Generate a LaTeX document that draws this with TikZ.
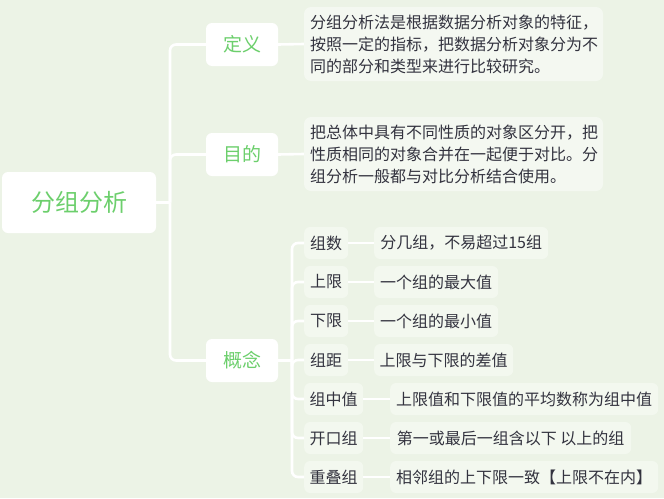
\documentclass[tikz,border=0pt]{standalone}
\usepackage{fontspec}
\setmainfont{Noto Sans CJK SC}
\begin{document}
\definecolor{bgc}{HTML}{ECF3E6}
\definecolor{cardc}{HTML}{F4F8F1}
\definecolor{leafc}{HTML}{F3F8EF}
\definecolor{greenc}{HTML}{6CCF6C}
\definecolor{inkc}{HTML}{33333F}
\begin{tikzpicture}[x=1pt,y=-1pt,
  rootbox/.style={fill=white,rounded corners=6pt,minimum width=154pt,minimum height=61pt,
    inner sep=0pt,text=greenc,font=\fontsize{24}{28}\selectfont},
  branchbox/.style={fill=white,rounded corners=6pt,minimum width=72pt,minimum height=43pt,
    inner sep=0pt,text=greenc,font=\fontsize{19}{22}\selectfont},
  notebox/.style={fill=cardc,rounded corners=7pt,minimum width=299pt,minimum height=74pt,
    inner xsep=6pt,inner ysep=0pt,text width=287pt,align=left,text=inkc,
    font=\fontsize{16}{22}\selectfont},
  termbox/.style={fill=leafc,rounded corners=6pt,minimum height=32pt,inner sep=0pt,
    text=inkc,font=\fontsize{16}{19}\selectfont,anchor=west},
  link/.style={draw=white,line width=2.6pt,rounded corners=6pt}]
\useasboundingbox[fill=bgc] (0,0) rectangle (664,498);

% root and first-level branches
\node[rootbox] (root) at (79,202.5) {分组分析};
\node[branchbox] (def) at (242,44.5) {定义};
\node[branchbox] (goal) at (242,154.5) {目的};
\node[branchbox] (concept) at (242,360.5) {概念};

% explanatory notes
\node[notebox] (defnote) at (453.5,44) {分组分析法是根据数据分析对象的特征，\\按照一定的指标，把数据分析对象分为不\\同的部分和类型来进行比较研究。};
\node[notebox] (goalnote) at (453.5,154) {把总体中具有不同性质的对象区分开，把\\性质相同的对象合并在一起便于对比。分\\组分析一般都与对比分析结合使用。};

% terms under the concept branch
\node[termbox,minimum width=44pt] (t1) at (304,243) {组数};
\node[termbox,minimum width=44pt] (t2) at (304,282) {上限};
\node[termbox,minimum width=44pt] (t3) at (304,321) {下限};
\node[termbox,minimum width=44pt] (t4) at (304,360) {组距};
\node[termbox,minimum width=59pt] (t5) at (304,399) {组中值};
\node[termbox,minimum width=59pt] (t6) at (304,438) {开口组};
\node[termbox,minimum width=59pt] (t7) at (304,477) {重叠组};

\node[termbox,minimum width=174pt] (v1) at (374,243) {分几组，不易超过15组};
\node[termbox,minimum width=124pt] (v2) at (374,282) {一个组的最大值};
\node[termbox,minimum width=124pt] (v3) at (374,321) {一个组的最小值};
\node[termbox,minimum width=139pt] (v4) at (374,360) {上限与下限的差值};
\node[termbox,minimum width=268pt] (v5) at (390,399) {上限值和下限值的平均数称为组中值};
\node[termbox,minimum width=241pt] (v6) at (390,438) {第一或最后一组含以下 以上的组};
\node[termbox,minimum width=268pt] (v7) at (390,477) {相邻组的上下限一致【上限不在内】};

% connectors
\coordinate (j) at (170,202.5);
\coordinate (k) at (292,360.5);
\draw[link] (root.east) -- (j);
\draw[link] (j) |- (def.west);
\draw[link] (j) |- (goal.west);
\draw[link] (j) |- (concept.west);
\draw[link] (def.east) -- (defnote.west);
\draw[link] (goal.east) -- (goalnote.west);
\draw[link] (concept.east) -- (k);
\foreach \i in {1,...,7}{
  \draw[link] (k) |- (t\i.west);
  \draw[link] (t\i.east) -- (v\i.west);
}
\end{tikzpicture}
\end{document}
